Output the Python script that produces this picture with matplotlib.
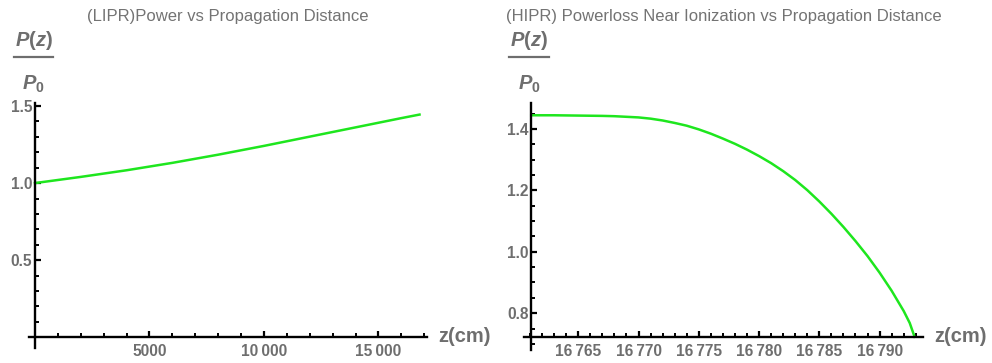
import matplotlib
matplotlib.use("Agg")
import matplotlib.pyplot as plt
from matplotlib.lines import Line2D
from matplotlib.ticker import FixedLocator, MultipleLocator, FuncFormatter

# LIPR: power vs propagation distance
lipr_z = [0, 2000, 4000, 6000, 8000, 10000, 12000, 14000, 16000, 16793]
lipr_p = [1.0, 1.040, 1.083, 1.131, 1.184, 1.241, 1.301, 1.361, 1.421, 1.444]

# HIPR: power loss near ionization
hipr_z = [16761.1, 16763, 16765, 16767, 16768, 16769, 16770, 16771, 16772,
          16773, 16774, 16775, 16776, 16777, 16778, 16779, 16780, 16781,
          16782, 16783, 16784, 16785, 16786, 16787, 16788, 16789, 16790,
          16791, 16792, 16792.5, 16792.9]
hipr_p = [1.445, 1.445, 1.444, 1.443, 1.442, 1.440, 1.438, 1.434, 1.428,
          1.420, 1.411, 1.399, 1.385, 1.369, 1.352, 1.333, 1.312, 1.289,
          1.263, 1.234, 1.201, 1.164, 1.124, 1.081, 1.035, 0.986, 0.932,
          0.873, 0.807, 0.768, 0.723]

lipr_yticks = [0.5, 1.0, 1.5]
lipr_xticks = [5000, 10000, 15000]
hipr_yticks = [0.8, 1.0, 1.2, 1.4]
hipr_xticks = [16765, 16770, 16775, 16780, 16785, 16790]

GREEN = "#1ee61e"
GRAY = "#6e6e6e"
TITLE = "#737373"
W, H = 992, 363

plt.rcParams["font.family"] = ["Liberation Sans", "DejaVu Sans"]
plt.rcParams["mathtext.fontset"] = "custom"
plt.rcParams["mathtext.it"] = "Liberation Sans:italic:bold"
plt.rcParams["mathtext.rm"] = "Liberation Sans:bold"
plt.rcParams["mathtext.bf"] = "Liberation Sans:bold"


def px_axes(fig, left, top, right, bottom):
    return fig.add_axes([left / W, (H - bottom) / H, (right - left) / W, (bottom - top) / H])


def mma_num(v, pos=None):
    s = f"{int(round(v))}"
    if len(s) > 4:
        s = s[:-3] + "\u2009" + s[-3:]
    return s


def mma_axes(ax, xlim, ylim, x0, y0, xminor, yminor):
    ax.set_xlim(xlim)
    ax.set_ylim(ylim)
    for side in ("top", "right"):
        ax.spines[side].set_visible(False)
    ax.spines["left"].set_position(("data", x0))
    ax.spines["bottom"].set_position(("data", y0))
    for side in ("left", "bottom"):
        ax.spines[side].set_linewidth(1.7)
        ax.spines[side].set_color("black")
    ax.xaxis.set_minor_locator(MultipleLocator(xminor))
    ax.yaxis.set_minor_locator(MultipleLocator(yminor))
    ax.tick_params(which="both", direction="in", color="black",
                   labelcolor=GRAY, labelsize=11.2)
    ax.tick_params(which="major", length=4.5, width=1.6)
    ax.tick_params(which="minor", length=2.8, width=1.4)
    ax.tick_params(axis="x", pad=5)
    ax.tick_params(axis="y", pad=2)
    for lab in ax.get_xticklabels() + ax.get_yticklabels():
        lab.set_fontweight("bold")
    ax.patch.set_alpha(0)


def frac_label(fig, cx):
    fig.text(cx / W, 1 - 40 / H, "$P(z)$", ha="center", va="center",
             fontsize=14.5, color=GRAY)
    fig.add_artist(Line2D([(cx - 19.5) / W, (cx + 19.5) / W], [1 - 57 / H, 1 - 57 / H],
                          color=GRAY, lw=1.6))
    fig.text(cx / W, 1 - 84 / H, "$P_0$", ha="center", va="center",
             fontsize=14.5, color=GRAY)


fig = plt.figure(figsize=(W / 100, H / 100), dpi=100)

# left panel
ax1 = px_axes(fig, 29, 103, 427, 348)
ax1.plot(lipr_z, lipr_p, color=GREEN, lw=1.8, solid_joinstyle="round")
ax1.xaxis.set_major_locator(FixedLocator(lipr_xticks))
ax1.yaxis.set_major_locator(FixedLocator(lipr_yticks))
ax1.xaxis.set_major_formatter(FuncFormatter(mma_num))
ax1.yaxis.set_major_formatter(FuncFormatter(lambda v, p: f"{v:.1f}"))
mma_axes(ax1, (-262, 17120), (-0.069, 1.519), 0, 0, 1000, 0.1)
fig.text(228 / W, 1 - 17 / H, "(LIPR)Power vs Propagation Distance",
         ha="center", va="center", fontsize=12, color=TITLE)
fig.text(438 / W, 1 - 337 / H, "z(cm)", ha="left", va="center",
         fontsize=14.5, fontweight="bold", color=GRAY)
frac_label(fig, 33.5)

# right panel
ax2 = px_axes(fig, 524, 103, 923, 350)
ax2.plot(hipr_z, hipr_p, color=GREEN, lw=1.8, solid_joinstyle="round")
ax2.xaxis.set_major_locator(FixedLocator(hipr_xticks))
ax2.yaxis.set_major_locator(FixedLocator(hipr_yticks))
ax2.xaxis.set_major_formatter(FuncFormatter(mma_num))
ax2.yaxis.set_major_formatter(FuncFormatter(lambda v, p: f"{v:.1f}"))
mma_axes(ax2, (16760.5, 16793.6), (0.680, 1.485), 16761.1, 0.722, 1, 0.05)
fig.text(723.5 / W, 1 - 17 / H, "(HIPR) Powerloss Near Ionization vs Propagation Distance",
         ha="center", va="center", fontsize=12, color=TITLE)
fig.text(934 / W, 1 - 337 / H, "z(cm)", ha="left", va="center",
         fontsize=14.5, fontweight="bold", color=GRAY)
frac_label(fig, 529)

fig.savefig("out.png", dpi=100, facecolor="white")
